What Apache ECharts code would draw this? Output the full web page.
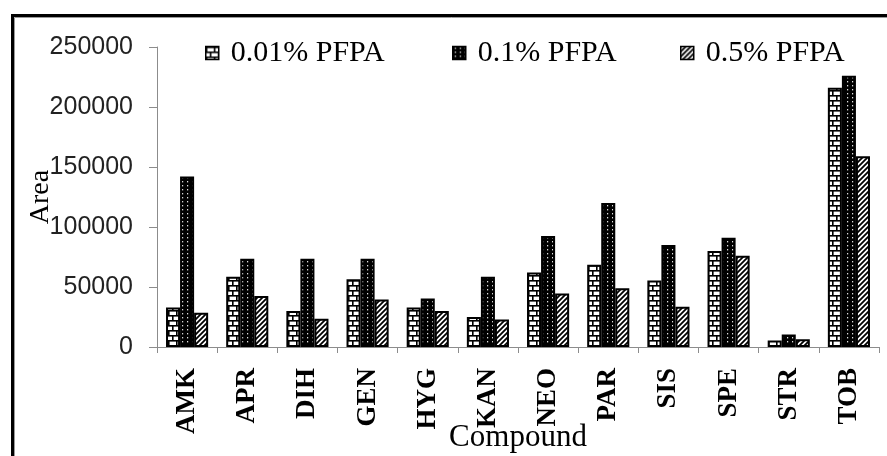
<!DOCTYPE html>
<html>
<head>
<meta charset="utf-8">
<script src="https://cdn.jsdelivr.net/npm/echarts@6/dist/echarts.min.js"></script>
<style>
html,body{margin:0;padding:0;background:#fff;}
#c{width:887px;height:456px;}
</style>
</head>
<body>
<div id="c"></div>
<script>
const categories = ['AMK','APR','DIH','GEN','HYG','KAN','NEO','PAR','SIS','SPE','STR','TOB'];
const seriesNames = ['0.01% PFPA','0.1% PFPA','0.5% PFPA'];
const pfpa001 = [33000, 58500, 30000, 56500, 33000, 25000, 62000, 68500, 55500, 80000, 5500, 216000];
const pfpa01  = [142000, 73500, 73500, 73500, 40500, 58500, 92500, 120000, 85000, 91000, 10500, 226000];
const pfpa05  = [28500, 42500, 23500, 39500, 30000, 23000, 44500, 49000, 33500, 76000, 6500, 159000];
const yTicks = [0, 50000, 100000, 150000, 200000, 250000];

function makeTile(w, h, draw) {
  const c = document.createElement('canvas');
  c.width = w; c.height = h;
  const ctx = c.getContext('2d');
  draw(ctx, w, h);
  return c;
}
const brick = makeTile(8, 10, (ctx, w, h) => {
  ctx.fillStyle = '#fff'; ctx.fillRect(0, 0, w, h);
  ctx.fillStyle = '#000';
  ctx.fillRect(0, 0, w, 1.6);
  ctx.fillRect(0, 5, w, 1.6);
  ctx.fillRect(0, 0, 1.6, 5);
  ctx.fillRect(4, 5, 1.6, 5);
});
const dots = makeTile(5, 4, (ctx, w, h) => {
  ctx.fillStyle = '#000'; ctx.fillRect(0, 0, w, h);
  ctx.fillStyle = '#e0e0e0';
  ctx.fillRect(2, 1, 1.2, 1.4);
});
const diag = makeTile(5, 5, (ctx, w, h) => {
  ctx.fillStyle = '#fff'; ctx.fillRect(0, 0, w, h);
  ctx.strokeStyle = '#000'; ctx.lineWidth = 1.8;
  ctx.beginPath();
  ctx.moveTo(-1, 6); ctx.lineTo(6, -1);
  ctx.moveTo(-1, 1); ctx.lineTo(1, -1);
  ctx.moveTo(4, 6); ctx.lineTo(6, 4);
  ctx.stroke();
});
const fills = [brick, dots, diag];
const data = [pfpa001, pfpa01, pfpa05];

const serif = 'Liberation Serif';
const chart = echarts.init(document.getElementById('c'), null, {renderer: 'canvas'});
const legendLefts = [205, 452, 680];
chart.setOption({
  backgroundColor: '#fff',
  animation: false,
  graphic: [{
    type: 'rect', silent: true, z: -1,
    shape: {x: 12.5, y: 15.5, width: 920, height: 500},
    style: {fill: 'none', stroke: '#000', lineWidth: 3}
  }, {
    type: 'rect', silent: true, z: -1,
    shape: {x: 14.5, y: 17.5, width: 920, height: 500},
    style: {fill: 'none', stroke: '#9a9a9a', lineWidth: 1}
  }],
  legend: seriesNames.map((n, i) => ({
    data: [n],
    left: legendLefts[i],
    top: 38,
    padding: 0,
    itemWidth: 13,
    itemHeight: 13,
    icon: 'rect',
    itemStyle: {borderColor: '#000', borderWidth: 1.5},
    textStyle: {fontFamily: serif, fontSize: 30, color: '#000', padding: [0, 0, 0, 7]}
  })),
  grid: {left: 157, right: 8, top: 47, bottom: 109, containLabel: false, outerBoundsMode: 'none'},
  xAxis: {
    type: 'category',
    data: categories,
    name: 'Compound',
    nameLocation: 'middle',
    nameGap: 75,
    nameMoveOverlap: false,
    nameTextStyle: {fontFamily: serif, fontSize: 31, color: '#000'},
    axisLine: {lineStyle: {color: '#8c8c8c', width: 1}},
    axisTick: {show: true, length: 6, lineStyle: {color: '#8c8c8c'}},
    axisLabel: {
      interval: 0, rotate: 90, margin: 21,
      fontFamily: serif, fontWeight: 'bold', fontSize: 27, color: '#000'
    }
  },
  yAxis: {
    type: 'value',
    min: yTicks[0], max: yTicks[yTicks.length - 1], interval: yTicks[1] - yTicks[0],
    name: 'Area',
    nameLocation: 'middle',
    nameGap: 102,
    nameMoveOverlap: false,
    nameTextStyle: {fontFamily: serif, fontSize: 28, color: '#000'},
    axisLine: {show: true, lineStyle: {color: '#8c8c8c', width: 1}},
    axisTick: {show: true, length: 8, lineStyle: {color: '#8c8c8c'}},
    splitLine: {show: false},
    axisLabel: {margin: 24, fontFamily: 'Liberation Sans', fontSize: 25, color: '#222',
      formatter: v => String(v)}
  },
  series: seriesNames.map((n, i) => ({
    name: n,
    type: 'bar',
    data: data[i],
    barGap: '0%',
    barCategoryGap: '30%',
    itemStyle: {
      color: {image: fills[i], repeat: 'repeat'},
      borderColor: '#000',
      borderWidth: 2
    }
  }))
});
</script>
</body>
</html>
